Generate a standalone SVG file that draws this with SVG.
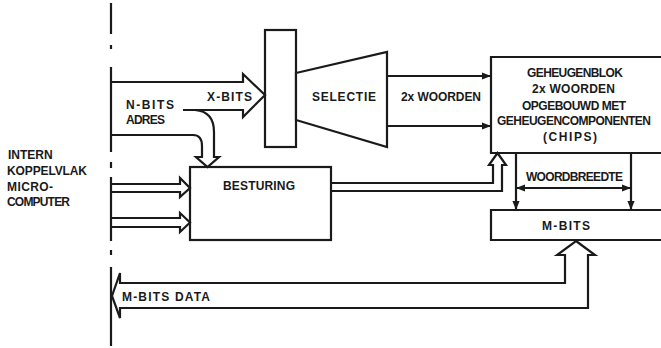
<svg xmlns="http://www.w3.org/2000/svg" width="661" height="348" viewBox="0 0 661 348">
<defs>
<style>
.ln{fill:none;stroke:#1a1a1a;stroke-width:2.2;stroke-linejoin:miter}
.bx{fill:#fff;stroke:#1a1a1a;stroke-width:2.2}
.t{font-family:"Liberation Sans",Arial,sans-serif;font-weight:bold;font-size:12px;fill:#1a1a1a}
</style>
<marker id="ah" viewBox="0 0 10 10" refX="10" refY="5" markerWidth="4.2" markerHeight="4.2" orient="auto-start-reverse" markerUnits="strokeWidth">
<path d="M0,1 L10,5 L0,9 Z" fill="#1a1a1a"/>
</marker>
</defs>
<rect width="661" height="348" fill="#fff"/>

<g id="bus">
<path class="ln" d="M111,3 V34 M111,45 V49 M111,67 V152 M111,162 V168 M111,177 V241 M111,250 V255 M111,267 V346"/>
<text class="t" x="8" y="159">INTERN</text>
<text class="t" x="7" y="175" textLength="80" lengthAdjust="spacing">KOPPELVLAK</text>
<text class="t" x="7" y="191" textLength="46" lengthAdjust="spacing">MICRO-</text>
<text class="t" x="7" y="206" textLength="63" lengthAdjust="spacing">COMPUTER</text>
</g>

<g id="register">
<rect class="bx" x="265" y="30" width="31" height="117"/>
</g>

<g id="selectie">
<path class="bx" d="M296,73 L387,52 L387,147 L296,120 Z"/>
<text class="t" x="312" y="101" textLength="64" lengthAdjust="spacing">SELECTIE</text>
</g>

<g id="geheugenblok">
<path class="bx" d="M670,57 H491 V153 H670"/>
<text class="t" x="527" y="77" textLength="96" lengthAdjust="spacing">GEHEUGENBLOK</text>
<text class="t" x="532" y="93" textLength="83" lengthAdjust="spacing">2x WOORDEN</text>
<text class="t" x="522" y="110" textLength="104" lengthAdjust="spacing">OPGEBOUWD MET</text>
<text class="t" x="497" y="125" textLength="154" lengthAdjust="spacing">GEHEUGENCOMPONENTEN</text>
<text class="t" x="543" y="141" textLength="54" lengthAdjust="spacing">(CHIPS)</text>
</g>

<g id="besturing">
<rect class="bx" x="190" y="167" width="141" height="73"/>
<text class="t" x="223" y="190" textLength="72" lengthAdjust="spacing">BESTURING</text>
</g>

<g id="mbits">
<path class="bx" d="M670,210 H491 V240 H670"/>
<text class="t" x="542" y="230" textLength="48" lengthAdjust="spacing">M-BITS</text>
</g>

<g id="connectors">
<path class="ln" d="M111,82 H243 V74 L265,95 L243,117 V110 H183"/>
<path class="ln" d="M195,110 C207,111 214,118 214,132 V157 H219 L207.5,167 L196,157 H202 V146 C202,139 199,135 193,135 H111"/>
<text class="t" x="126" y="109" textLength="48" lengthAdjust="spacing">N-BITS</text>
<text class="t" x="126" y="124" textLength="39" lengthAdjust="spacing">ADRES</text>
<text class="t" x="207" y="101" textLength="45" lengthAdjust="spacing">X-BITS</text>

<path class="ln" d="M111,184 H180 V178 L190,188 L180,197 V192 H111"/>
<path class="ln" d="M111,218 H180 V213 L190,222.5 L180,232 V227 H111"/>

<path class="ln" d="M331,183 H493 V165 H489 L497.5,153 L506,165 H502 V191 H331"/>

<path class="ln" d="M387,76 H491" marker-end="url(#ah)"/>
<path class="ln" d="M387,126 H491" marker-end="url(#ah)"/>
<text class="t" x="401" y="101" textLength="80" lengthAdjust="spacing">2x WOORDEN</text>

<path class="ln" d="M516,153 V210" marker-end="url(#ah)"/>
<path class="ln" d="M631,153 V210" marker-end="url(#ah)"/>
<path class="ln" d="M516,188 H631" marker-start="url(#ah)" marker-end="url(#ah)"/>
<text class="t" x="526" y="181" textLength="97" lengthAdjust="spacing">WOORDBREEDTE</text>

<path class="ln" d="M576,241 L595,255 H588 V308 H120 V318 L112,296 L120,273 V283 H565 V255 H557 Z"/>
<text class="t" x="122" y="301" textLength="88" lengthAdjust="spacing">M-BITS DATA</text>
</g>
</svg>
